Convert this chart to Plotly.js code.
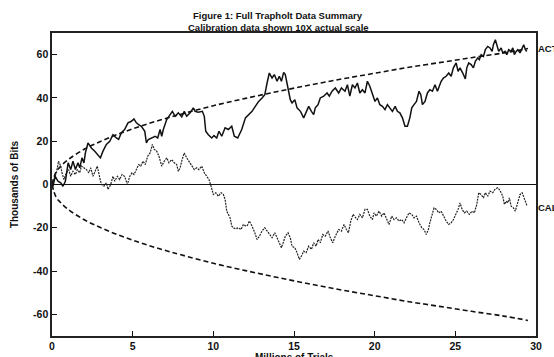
<!DOCTYPE html>
<html>
<head>
<meta charset="utf-8">
<script src="https://cdn.plot.ly/plotly-3.0.1.min.js"></script>
<style>
html,body{margin:0;padding:0;background:#fff;}
#chart{width:554px;height:357px;}
</style>
</head>
<body>
<div id="chart"></div>
<script>
// ACT series (millions of trials, thousands of bits)
const actX = [0,0.06,0.2,0.37,0.54,0.68,0.83,1.0,1.16,1.3,1.45,1.61,1.72,1.86,1.98,2.07,2.23,2.44,2.65,2.85,3.0,3.16,3.37,3.58,3.78,3.99,4.13,4.3,4.5,4.71,4.92,5.08,5.23,5.37,5.54,5.75,5.85,5.97,6.18,6.39,6.55,6.7,6.8,6.9,7.11,7.32,7.46,7.63,7.83,8.04,8.2,8.35,8.56,8.76,8.87,9.07,9.32,9.44,9.53,9.69,9.9,10.04,10.21,10.35,10.52,10.73,10.93,11.14,11.3,11.51,11.76,11.99,12.2,12.4,12.6,12.81,13.02,13.19,13.33,13.47,13.64,13.78,13.95,14.09,14.22,14.36,14.46,14.63,14.77,14.88,15.05,15.19,15.4,15.6,15.75,15.91,16.08,16.22,16.32,16.49,16.63,16.84,17.05,17.19,17.36,17.56,17.77,17.94,18.16,18.31,18.46,18.62,18.78,18.93,19.08,19.24,19.4,19.55,19.7,19.86,20.02,20.17,20.32,20.48,20.64,20.79,20.94,21.1,21.27,21.41,21.56,21.72,21.88,22.03,22.18,22.3,22.44,22.59,22.75,22.86,22.96,23.12,23.27,23.42,23.58,23.74,23.89,23.97,24.12,24.26,24.43,24.59,24.74,24.88,25.05,25.17,25.29,25.46,25.62,25.71,25.83,25.98,26.12,26.24,26.39,26.49,26.6,26.74,26.86,27.01,27.15,27.28,27.36,27.48,27.59,27.69,27.84,27.94,28.08,28.19,28.31,28.46,28.56,28.66,28.77,28.87,29.01,29.14,29.24,29.34,29.43];
const actY = [0,-0.8,3.8,1.5,0.8,-0.8,1.5,10,6.9,10.8,6.9,10,7.7,12.3,10,14.6,19.2,16.9,15.4,13.8,12.3,15.4,18.5,20,23,21.5,20.8,23.9,25.4,28.5,29.2,30.3,28.5,27.7,26.9,24.6,19.2,20.8,21.5,22.3,21.5,25.4,22.3,25.4,30,32.3,33.8,31.5,33.1,31.2,33.8,31.5,33.1,35.4,33.8,33.4,33.8,31.5,24.6,23,21.5,22.6,21.5,24.6,22.3,26.2,25.4,26.9,22.3,21.5,25.4,30.8,32.3,33.8,36.1,38.4,40,41.5,46.9,51.5,49.2,50.8,47.7,50,47.7,51.8,50.8,44.6,39.2,37.7,39.2,35.4,33.8,30.8,33.8,36.1,33.8,32.3,35.4,36.9,40,40.8,42.3,40.8,43.1,44.6,42.3,44.6,43.1,46.1,40.8,46.1,44.6,46.9,42.3,43.8,42.3,47.7,45.4,41.5,38.4,40,36.9,36.1,34.6,36.9,35.4,33.8,36.1,33.8,33.1,30.8,26.9,26.9,30.8,35.4,36.9,38.4,43.1,41.5,36.9,38.4,42.3,43.8,43.1,46.1,43.1,44.6,47.7,49.2,50,51.5,50,53.9,56.2,52.3,53.9,51.5,48.8,53.9,56.2,55.4,53.9,56.9,58.5,57.7,60,59.2,62.3,63.8,63.1,61.5,64.6,66.9,64.6,61.5,63.1,60.8,61.5,60,62.3,61.5,63.1,60,61.5,62.3,60.8,63.1,64.6,62.3,61.5];

// CAL series (shown at 10X actual scale)
const calX = [0,0.17,0.27,0.41,0.54,0.62,0.74,0.89,1.03,1.16,1.3,1.45,1.57,1.72,1.82,1.98,2.13,2.28,2.4,2.54,2.65,2.81,2.96,3.06,3.22,3.37,3.47,3.64,3.78,3.89,4.05,4.2,4.34,4.5,4.67,4.82,4.96,5.08,5.23,5.37,5.5,5.64,5.78,5.93,6.08,6.22,6.34,6.49,6.63,6.8,6.96,7.11,7.25,7.42,7.58,7.73,7.83,7.94,8.04,8.2,8.35,8.49,8.66,8.82,8.97,9.11,9.28,9.44,9.59,9.73,9.86,10.0,10.15,10.31,10.48,10.62,10.73,10.83,10.93,11.04,11.14,11.24,11.39,11.55,11.72,11.86,11.97,12.09,12.23,12.4,12.57,12.71,12.85,13.02,13.19,13.33,13.47,13.64,13.81,13.95,14.09,14.22,14.36,14.46,14.63,14.77,14.88,15.05,15.19,15.33,15.46,15.6,15.75,15.91,16.08,16.22,16.37,16.49,16.63,16.78,16.94,17.11,17.25,17.4,17.56,17.77,17.94,18.1,18.25,18.37,18.52,18.66,18.83,18.93,19.08,19.24,19.4,19.55,19.7,19.86,19.96,20.11,20.27,20.44,20.58,20.73,20.89,21.06,21.2,21.35,21.51,21.68,21.82,21.97,22.13,22.3,22.44,22.59,22.75,22.92,23.06,23.2,23.33,23.42,23.54,23.68,23.83,23.97,24.12,24.26,24.43,24.59,24.74,24.88,25.05,25.17,25.29,25.42,25.56,25.71,25.87,26.04,26.18,26.33,26.45,26.6,26.74,26.86,27.01,27.15,27.32,27.48,27.63,27.73,27.84,27.94,28.04,28.15,28.25,28.35,28.46,28.6,28.72,28.87,29.01,29.14,29.27,29.39,29.45];
const calY = [0,3.1,5.4,10.8,8.5,5.4,2.3,5.4,6.9,3.8,6.1,4.6,6.9,5.4,8.5,7.7,6.9,5.4,7.7,3.8,6.1,8.5,3.1,0,-0.8,0.8,-2.3,0,3.8,1.5,3.8,2.3,4.6,3.8,0,3.8,5.4,4.6,6.9,9.2,8.5,10.8,9.2,13.1,14.6,18.5,16.2,15.4,13.1,8.5,10.8,12.3,10,11.5,10,9.2,6.1,7.7,10.8,14.6,12.3,10.8,8.5,6.9,7.7,6.9,8.5,5.4,3.8,2.3,-0.8,-4.6,-3.8,-5.4,-3.8,-4.6,-6.9,-12.3,-13.8,-15.4,-19.2,-20,-20.5,-20,-20.8,-18.5,-19,-19.2,-16.9,-19.2,-22.3,-25.4,-23.9,-21.5,-20,-21.5,-23.1,-24.6,-22.3,-24.6,-26.9,-29.2,-26.2,-23.9,-22.3,-24.6,-28.5,-29.2,-31.5,-34.6,-33.1,-30.8,-31.5,-28.5,-30,-26.9,-28.5,-25.4,-26.9,-23.1,-23.9,-21.5,-24.6,-26.9,-23.9,-20.8,-21.5,-18.5,-20.8,-22.3,-16.9,-13.8,-15.4,-16.2,-13.8,-15.4,-11.5,-11.5,-14.6,-16.2,-13.1,-14.6,-12.3,-14.6,-13.1,-16.2,-18.5,-14.6,-16.2,-15.4,-16.9,-16.2,-17.7,-15.4,-13.1,-13.8,-15.4,-14.6,-17.7,-20,-20.8,-23.1,-20.8,-17.7,-13.8,-10.8,-11.5,-13.1,-12.3,-14.6,-16.9,-18.5,-17.7,-16.2,-13.8,-11.5,-8.5,-11.5,-13.1,-12.3,-13.8,-12.3,-13.1,-9.2,-3.8,-4.6,-6.2,-3.8,-5.4,-3.1,-3.8,-2,-1.5,-2.3,-3.8,-5.4,-9.2,-7.7,-8.5,-6.2,-10,-10.8,-12.3,-8.5,-4.6,-3.8,-6.2,-8.5,-10];

// Dashed envelope
const envX = [0,0.25,0.5,1,2,3,4,5,6,7,8,10,12,14,16,18,20,22,24,26,28,29.5];
const envUpper = [0,5.8,8.1,11.5,16.3,19.9,23,25.7,28.2,30.4,32.5,36.4,39.8,43,46,48.8,51.4,54,56.3,58.6,60.8,62.8];
const envLower = [0,-5.8,-8.1,-11.5,-16.3,-19.9,-23,-25.7,-28.2,-30.4,-32.5,-36.4,-39.8,-43,-46,-48.8,-51.4,-54,-56.3,-58.6,-60.8,-62.8];

const xTicks = [0,5,10,15,20,25,30];
const xTickText = ['0','5','10','15','20','25','30'];
const yTicks = [-60,-40,-20,0,20,40,60];
const yTickText = ['-60','-40','-20','0','20','40','60'];

const titleLines = ['Figure 1: Full Trapholt Data Summary','Calibration data shown 10X actual scale'];
const xTitle = 'Millions of Trials';
const yTitle = 'Thousands of Bits';
const seriesLabels = ['ACT','CAL'];
const labelY = [63,-10.5];

const FONT = 'Liberation Sans, Arial, sans-serif';
const bold = (size) => ({family: FONT, size: size, color: '#111', weight: 'bold'});

const traces = [
  {x: envX, y: envUpper, mode: 'lines', line: {color: '#111', width: 1.6, dash: '5px,3px', shape: 'spline'}, hoverinfo: 'skip'},
  {x: envX, y: envLower, mode: 'lines', line: {color: '#111', width: 1.6, dash: '5px,3px', shape: 'spline'}, hoverinfo: 'skip'},
  {x: calX, y: calY, mode: 'lines', line: {color: '#222', width: 1.2, dash: '2px,1px'}},
  {x: actX, y: actY, mode: 'lines', line: {color: '#111', width: 1.5}}
];

const annotations = [
  {text: titleLines[0], x: 0.467, y: 1.059, font: bold(9.5)},
  {text: titleLines[1], x: 0.467, y: 1.019, font: bold(9.5)},
  {text: xTitle, x: 0.5, y: -0.072, font: bold(10)}
].map(a => Object.assign({xref: 'paper', yref: 'paper', xanchor: 'center', yanchor: 'middle', showarrow: false}, a));

seriesLabels.forEach((t, i) => annotations.push({
  text: t, x: 1, xshift: 0, xref: 'paper', xanchor: 'left',
  y: labelY[i], yref: 'y', yanchor: 'middle', showarrow: false,
  font: bold(9.5)
}));

const layout = {
  width: 554, height: 357,
  margin: {l: 52, r: 18, t: 33, b: 21},
  paper_bgcolor: '#fff', plot_bgcolor: '#fff',
  showlegend: false,
  xaxis: {
    range: [0, 30], tickvals: xTicks, ticktext: xTickText,
    ticks: 'inside', ticklen: 5, tickwidth: 1, tickcolor: '#111',
    showline: true, linecolor: '#222', linewidth: 1.6, mirror: true,
    showgrid: false, zeroline: false,
    tickfont: bold(10.5)
  },
  yaxis: {
    range: [-70, 70], tickvals: yTicks, ticktext: yTickText,
    ticks: 'inside', ticklen: 5, tickwidth: 1, tickcolor: '#111',
    showline: true, linecolor: '#222', linewidth: 1.6, mirror: true,
    showgrid: false, zeroline: true, zerolinecolor: '#111', zerolinewidth: 1.5,
    tickfont: bold(10.5),
    title: {text: yTitle, font: bold(10), standoff: 12}
  },
  annotations: annotations
};

Plotly.newPlot('chart', traces, layout, {staticPlot: true, displayModeBar: false});
</script>
</body>
</html>
